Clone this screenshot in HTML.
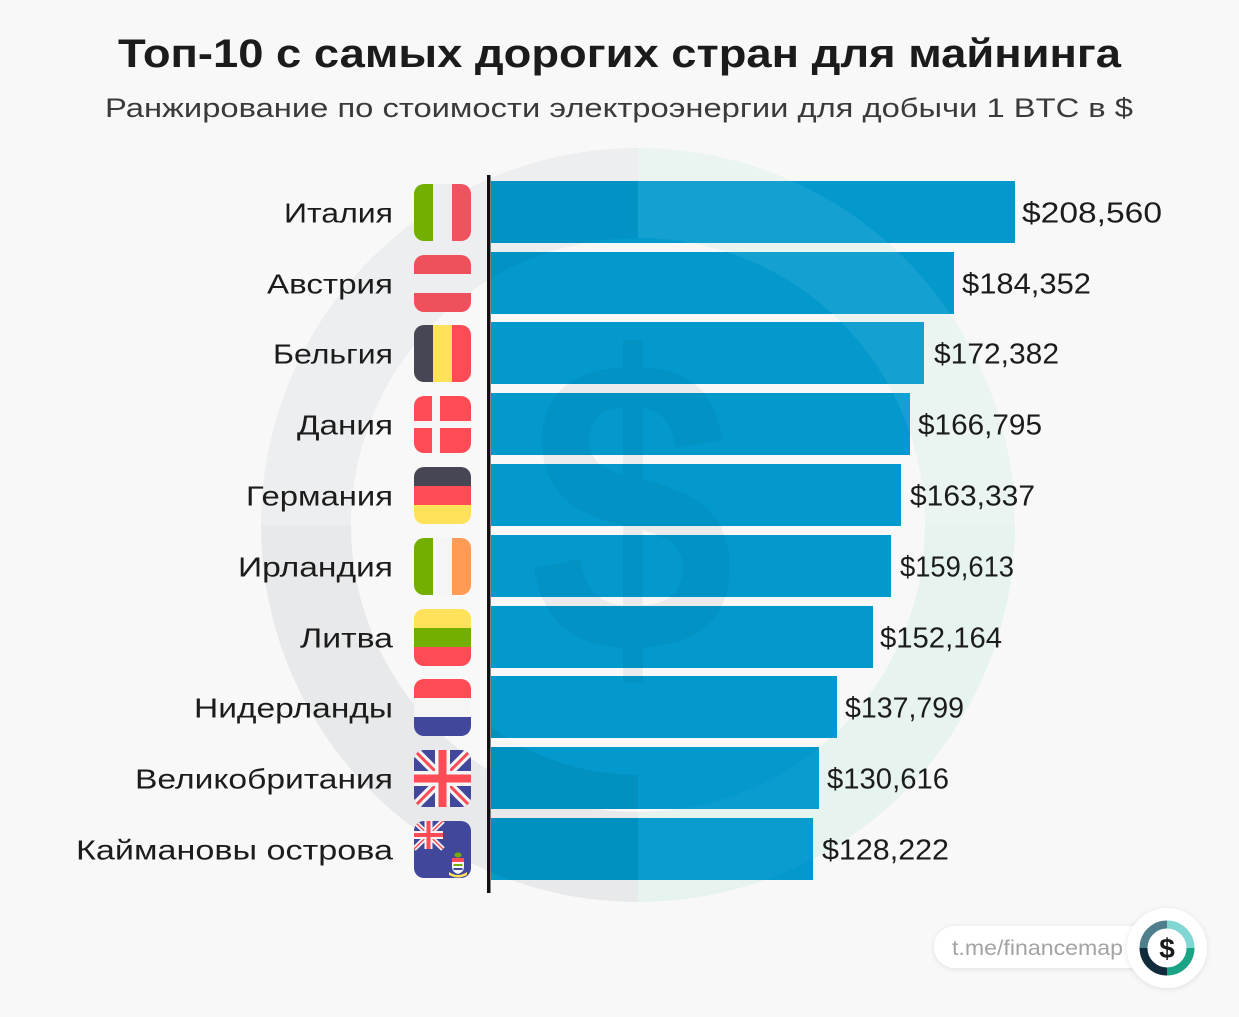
<!DOCTYPE html>
<html><head><meta charset="utf-8">
<style>
html,body{margin:0;padding:0;background:#f8f8f8;}
svg{display:block;}
text{font-family:"Liberation Sans","Noto Sans CJK SC",sans-serif;}
</style></head>
<body>
<svg width="1239" height="1017" viewBox="0 0 1239 1017" xmlns="http://www.w3.org/2000/svg">
<defs>
  <clipPath id="fc"><rect x="0" y="0" width="57" height="57" rx="10" ry="10"/></clipPath>
  <clipPath id="bars">
    <rect x="491" y="181" width="524" height="62"/>
    <rect x="491" y="252" width="463" height="62"/>
    <rect x="491" y="322" width="433" height="62"/>
    <rect x="491" y="393" width="419" height="62"/>
    <rect x="491" y="464" width="410" height="62"/>
    <rect x="491" y="535" width="400" height="62"/>
    <rect x="491" y="606" width="382" height="62"/>
    <rect x="491" y="676" width="346" height="62"/>
    <rect x="491" y="747" width="328" height="62"/>
    <rect x="491" y="818" width="322" height="62"/>
  </clipPath>
  <filter id="sh" x="-20%" y="-30%" width="140%" height="160%">
    <feDropShadow dx="0" dy="1" stdDeviation="3" flood-color="#000" flood-opacity="0.10"/>
  </filter>
</defs>

<rect x="0" y="0" width="1239" height="1017" fill="#f8f8f8"/>

<!-- watermark ring (background) -->
<path d="M638,148 A377,377 0 0 1 1015,525 L925,525 A287,287 0 0 0 638,238 Z" fill="#eaf5f2"/>
<path d="M1015,525 A377,377 0 0 1 638,902 L638,812 A287,287 0 0 0 925,525 Z" fill="#e6f3ef"/>
<path d="M638,902 A377,377 0 0 1 261,525 L351,525 A287,287 0 0 0 638,812 Z" fill="#e7e9ea"/>
<path d="M261,525 A377,377 0 0 1 638,148 L638,238 A287,287 0 0 0 351,525 Z" fill="#eceeef"/>

<!-- title -->
<text x="118" y="67" font-size="40" font-weight="bold" fill="#1b1b1b" textLength="1003" lengthAdjust="spacingAndGlyphs">Топ-10 с самых дорогих стран для майнинга</text>
<text x="105" y="117" font-size="27" fill="#3a3a3a" textLength="1028" lengthAdjust="spacingAndGlyphs">Ранжирование по стоимости электроэнергии для добычи 1 BTC в $</text>

<!-- bars -->
<g fill="#0399cd">
    <rect x="491" y="181" width="524" height="62"/>
    <rect x="491" y="252" width="463" height="62"/>
    <rect x="491" y="322" width="433" height="62"/>
    <rect x="491" y="393" width="419" height="62"/>
    <rect x="491" y="464" width="410" height="62"/>
    <rect x="491" y="535" width="400" height="62"/>
    <rect x="491" y="606" width="382" height="62"/>
    <rect x="491" y="676" width="346" height="62"/>
    <rect x="491" y="747" width="328" height="62"/>
    <rect x="491" y="818" width="322" height="62"/>
</g>
<!-- ring overlay on bars -->
<g clip-path="url(#bars)">
<path d="M638,148 A377,377 0 0 1 1015,525 L925,525 A287,287 0 0 0 638,238 Z" fill="#ffffff" fill-opacity="0.07"/>
<path d="M1015,525 A377,377 0 0 1 638,902 L638,812 A287,287 0 0 0 925,525 Z" fill="#ffffff" fill-opacity="0.03"/>
<path d="M638,902 A377,377 0 0 1 261,525 L388,525 A250,250 0 0 0 638,775 Z" fill="#002030" fill-opacity="0.07"/>
<path d="M261,525 A377,377 0 0 1 638,148 L638,238 A287,287 0 0 0 351,525 Z" fill="#002030" fill-opacity="0.05"/>
</g>
<!-- dollar watermark -->
<text transform="translate(632,652) scale(0.88,1)" x="0" y="0" font-size="420" font-weight="bold" text-anchor="middle" fill="#002838" fill-opacity="0.06">$</text>

<!-- axis -->
<rect x="487" y="175" width="3.5" height="718" fill="#111"/>

<!-- labels -->
<g font-size="28" fill="#1c1c1c" text-anchor="end">
<text x="393" y="222.5" textLength="109" lengthAdjust="spacingAndGlyphs">Италия</text>
<text x="393" y="293.5" textLength="126" lengthAdjust="spacingAndGlyphs">Австрия</text>
<text x="393" y="363.5" textLength="120" lengthAdjust="spacingAndGlyphs">Бельгия</text>
<text x="393" y="434.5" textLength="96" lengthAdjust="spacingAndGlyphs">Дания</text>
<text x="393" y="505.5" textLength="147" lengthAdjust="spacingAndGlyphs">Германия</text>
<text x="393" y="576.5" textLength="155" lengthAdjust="spacingAndGlyphs">Ирландия</text>
<text x="393" y="647.5" textLength="93" lengthAdjust="spacingAndGlyphs">Литва</text>
<text x="393" y="717.5" textLength="199" lengthAdjust="spacingAndGlyphs">Нидерланды</text>
<text x="393" y="788.5" textLength="258" lengthAdjust="spacingAndGlyphs">Великобритания</text>
<text x="393" y="859.5" textLength="317" lengthAdjust="spacingAndGlyphs">Каймановы острова</text>
</g>

<!-- values -->
<g font-size="29" fill="#1c1c1c">
<text x="1022" y="222.5" textLength="140" lengthAdjust="spacingAndGlyphs">$208,560</text>
<text x="962" y="293.5" textLength="129" lengthAdjust="spacingAndGlyphs">$184,352</text>
<text x="934" y="363.5" textLength="125" lengthAdjust="spacingAndGlyphs">$172,382</text>
<text x="918" y="434.5" textLength="124" lengthAdjust="spacingAndGlyphs">$166,795</text>
<text x="910" y="505.5" textLength="125" lengthAdjust="spacingAndGlyphs">$163,337</text>
<text x="900" y="576.5" textLength="114" lengthAdjust="spacingAndGlyphs">$159,613</text>
<text x="880" y="647.5" textLength="122" lengthAdjust="spacingAndGlyphs">$152,164</text>
<text x="845" y="717.5" textLength="119" lengthAdjust="spacingAndGlyphs">$137,799</text>
<text x="827" y="788.5" textLength="122" lengthAdjust="spacingAndGlyphs">$130,616</text>
<text x="822" y="859.5" textLength="127" lengthAdjust="spacingAndGlyphs">$128,222</text>
</g>

<!-- flags -->
<g transform="translate(414,184)" clip-path="url(#fc)">
  <rect x="0" y="0" width="19" height="57" fill="#73af00"/>
  <rect x="19" y="0" width="19" height="57" fill="#eceef0"/>
  <rect x="38" y="0" width="19" height="57" fill="#ef5360"/>
</g>
<g transform="translate(414,255)" clip-path="url(#fc)">
  <rect x="0" y="0" width="57" height="19" fill="#f0505c"/>
  <rect x="0" y="19" width="57" height="19" fill="#eceef0"/>
  <rect x="0" y="38" width="57" height="19" fill="#f0505c"/>
</g>
<g transform="translate(414,325)" clip-path="url(#fc)">
  <rect x="0" y="0" width="19" height="57" fill="#464655"/>
  <rect x="19" y="0" width="19" height="57" fill="#ffe15a"/>
  <rect x="38" y="0" width="19" height="57" fill="#ff4b55"/>
</g>
<g transform="translate(414,396)" clip-path="url(#fc)">
  <rect x="0" y="0" width="57" height="57" fill="#ff4b55"/>
  <rect x="18" y="0" width="8" height="57" fill="#f5f5f5"/>
  <rect x="0" y="25" width="57" height="7" fill="#f5f5f5"/>
</g>
<g transform="translate(414,467)" clip-path="url(#fc)">
  <rect x="0" y="0" width="57" height="19" fill="#464655"/>
  <rect x="0" y="19" width="57" height="19" fill="#ff4b55"/>
  <rect x="0" y="38" width="57" height="19" fill="#ffe15a"/>
</g>
<g transform="translate(414,538)" clip-path="url(#fc)">
  <rect x="0" y="0" width="19" height="57" fill="#73af00"/>
  <rect x="19" y="0" width="19" height="57" fill="#f5f5f5"/>
  <rect x="38" y="0" width="19" height="57" fill="#ff9b55"/>
</g>
<g transform="translate(414,609)" clip-path="url(#fc)">
  <rect x="0" y="0" width="57" height="19" fill="#ffe15a"/>
  <rect x="0" y="19" width="57" height="19" fill="#73af00"/>
  <rect x="0" y="38" width="57" height="19" fill="#ff4b55"/>
</g>
<g transform="translate(414,679)" clip-path="url(#fc)">
  <rect x="0" y="0" width="57" height="19" fill="#ff4b55"/>
  <rect x="0" y="19" width="57" height="19" fill="#f5f5f5"/>
  <rect x="0" y="38" width="57" height="19" fill="#41479b"/>
</g>
<g transform="translate(414,750)" clip-path="url(#fc)">
  <rect x="0" y="0" width="57" height="57" fill="#41479b"/>
  <line x1="0" y1="0" x2="57" y2="57" stroke="#f5f5f5" stroke-width="9"/>
  <line x1="57" y1="0" x2="0" y2="57" stroke="#f5f5f5" stroke-width="9"/>
  <line x1="0" y1="0" x2="57" y2="57" stroke="#ff4b55" stroke-width="3"/>
  <line x1="57" y1="0" x2="0" y2="57" stroke="#ff4b55" stroke-width="3"/>
  <rect x="21" y="0" width="15" height="57" fill="#f5f5f5"/>
  <rect x="0" y="21" width="57" height="15" fill="#f5f5f5"/>
  <rect x="24.5" y="0" width="8" height="57" fill="#ff4b55"/>
  <rect x="0" y="24.5" width="57" height="8" fill="#ff4b55"/>
</g>
<g transform="translate(414,821)" clip-path="url(#fc)">
  <rect x="0" y="0" width="57" height="57" fill="#41479b"/>
  <g>
    <line x1="0" y1="0" x2="29" y2="28" stroke="#f5f5f5" stroke-width="5"/>
    <line x1="29" y1="0" x2="0" y2="28" stroke="#f5f5f5" stroke-width="5"/>
    <line x1="0" y1="0" x2="29" y2="28" stroke="#ff4b55" stroke-width="1.5"/>
    <line x1="29" y1="0" x2="0" y2="28" stroke="#ff4b55" stroke-width="1.5"/>
    <rect x="10.5" y="0" width="8" height="28" fill="#f5f5f5"/>
    <rect x="0" y="10" width="29" height="8" fill="#f5f5f5"/>
    <rect x="12.5" y="0" width="4" height="28" fill="#ff4b55"/>
    <rect x="0" y="12" width="29" height="4" fill="#ff4b55"/>
  </g>
  <ellipse cx="44" cy="34" rx="3.5" ry="2.5" fill="#73af00"/>
  <path d="M38,37 h12 v9 q0,5 -6,7 q-6,-2 -6,-7 z" fill="#f5f5f5"/>
  <rect x="38" y="37" width="12" height="4" fill="#ff4b55"/>
  <rect x="39.5" y="43" width="9" height="2" fill="#73af00"/>
  <rect x="39.5" y="47" width="9" height="2" fill="#41479b"/>
  <path d="M35,51 q9,6 18,0 v3 q-9,5 -18,0 z" fill="#ffe15a"/>
</g>

<!-- logo -->
<rect x="934" y="926" width="226" height="42" rx="21" ry="21" fill="#ffffff" filter="url(#sh)"/>
<text x="952" y="955" font-size="21" fill="#a3a3a3" textLength="171" lengthAdjust="spacingAndGlyphs">t.me/financemap</text>
<circle cx="1167" cy="948" r="40" fill="#ffffff" filter="url(#sh)"/>
<g fill="none" stroke-width="8">
  <path d="M1167,924.5 A23.5,23.5 0 0 1 1190.5,948" stroke="#7fd6d3"/>
  <path d="M1190.5,948 A23.5,23.5 0 0 1 1167,971.5" stroke="#1ba385"/>
  <path d="M1167,971.5 A23.5,23.5 0 0 1 1143.5,948" stroke="#122b3a"/>
  <path d="M1143.5,948 A23.5,23.5 0 0 1 1167,924.5" stroke="#4f7f8c"/>
</g>
<text x="1167" y="958" font-size="28" font-weight="bold" fill="#1a1a1a" text-anchor="middle">$</text>
</svg>
</body></html>
